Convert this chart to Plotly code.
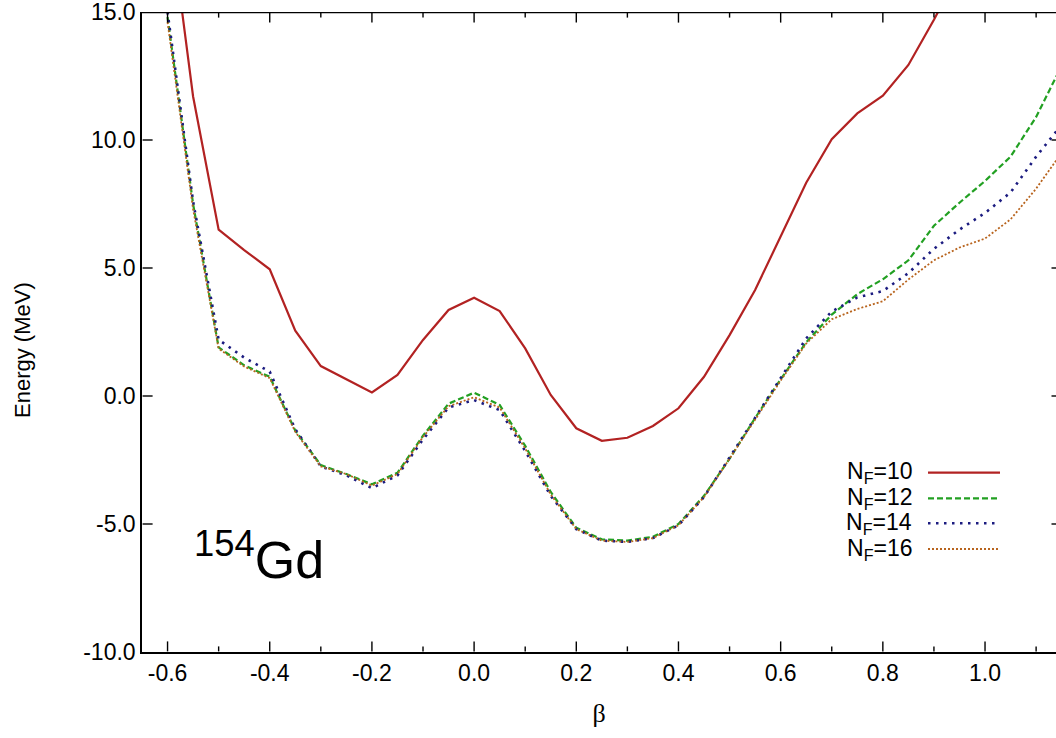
import plotly.graph_objects as go

# ---- data ----
beta = [-0.60, -0.55, -0.50, -0.45, -0.40, -0.35, -0.30, -0.25, -0.20, -0.15,
        -0.10, -0.05, 0.00, 0.05, 0.10, 0.15, 0.20, 0.25, 0.30, 0.35,
        0.40, 0.45, 0.50, 0.55, 0.60, 0.65, 0.70, 0.75, 0.80, 0.85,
        0.90, 0.95, 1.00, 1.05, 1.10, 1.15]

beta_nf10 = beta[:32]
e_nf10 = [19.4, 11.7, 6.5, 5.7, 4.95, 2.55, 1.17, 0.65, 0.14, 0.82,
          2.19, 3.36, 3.84, 3.32, 1.86, 0.04, -1.26, -1.75, -1.63, -1.17,
          -0.48, 0.75, 2.38, 4.14, 6.22, 8.33, 10.03, 11.04, 11.73, 12.93,
          14.7, 16.6]

e_nf12 = [14.8, 7.5, 1.9, 1.2, 0.75, -1.35, -2.7, -3.05, -3.45, -3.0,
          -1.55, -0.3, 0.13, -0.35, -1.95, -3.75, -5.15, -5.6, -5.65, -5.5,
          -5.0, -3.9, -2.45, -0.86, 0.65, 2.1, 3.18, 3.98, 4.56, 5.3,
          6.65, 7.55, 8.4, 9.35, 10.9, 12.9]

e_nf14 = [15.0, 7.6, 2.2, 1.5, 0.95, -1.3, -2.75, -3.1, -3.6, -3.1,
          -1.7, -0.45, -0.16, -0.55, -2.15, -3.9, -5.2, -5.65, -5.7, -5.55,
          -5.05, -3.95, -2.4, -0.85, 0.75, 2.25, 3.3, 3.85, 4.1, 4.8,
          5.75, 6.5, 7.15, 7.95, 9.35, 10.6]

e_nf16 = [14.6, 7.3, 1.85, 1.15, 0.7, -1.4, -2.75, -3.05, -3.5, -3.05,
          -1.6, -0.4, -0.05, -0.45, -2.05, -3.85, -5.2, -5.65, -5.7, -5.55,
          -5.05, -3.95, -2.45, -0.9, 0.6, 2.05, 3.0, 3.4, 3.7, 4.55,
          5.3, 5.8, 6.15, 6.9, 8.1, 9.5]

series_labels = ["N<sub>F</sub>=10", "N<sub>F</sub>=12", "N<sub>F</sub>=14", "N<sub>F</sub>=16"]

x_tick_vals = [-0.6, -0.4, -0.2, 0.0, 0.2, 0.4, 0.6, 0.8, 1.0]
x_tick_text = ["-0.6", "-0.4", "-0.2", "0.0", "0.2", "0.4", "0.6", "0.8", "1.0"]
x_minor_vals = [-0.5, -0.3, -0.1, 0.1, 0.3, 0.5, 0.7, 0.9, 1.1]
y_tick_vals = [-10, -5, 0, 5, 10, 15]
y_tick_text = ["-10.0", "-5.0", "0.0", "5.0", "10.0", "15.0"]

# ---- styles ----
colors = ["#b22222", "#22a022", "#1c1c80", "#b8641e"]
dashes = ["solid", "6px,3px", "2.5px,5.5px", "2px,2px"]
widths = [2.2, 2.2, 2.6, 1.8]

SANS = "Liberation Sans, Arial, Helvetica, sans-serif"
SERIF = "Liberation Serif, Times New Roman, serif"

L, T, B = 142, 12, 86
W, H = 1056, 738
pw, ph = W - L, H - T - B
X_RANGE = [-0.65, 1.1389]
Y_RANGE = [-10, 15]
px_x = (X_RANGE[1] - X_RANGE[0]) / pw   # data units per pixel (x)
px_y = (Y_RANGE[1] - Y_RANGE[0]) / ph   # data units per pixel (y)

fig = go.Figure()
xs = [beta_nf10, beta, beta, beta]
ys = [e_nf10, e_nf12, e_nf14, e_nf16]
for i in range(4):
    fig.add_trace(go.Scatter(x=xs[i], y=ys[i], mode="lines", name=series_labels[i],
                             line=dict(color=colors[i], width=widths[i], dash=dashes[i]),
                             showlegend=False, hoverinfo="skip"))

# ---- frame ticks built from the tick value lists (inward ticks like gnuplot) ----
tx, ty = [], []
y_lo = Y_RANGE[0] + 0.6 * px_y
y_hi = Y_RANGE[1] - 0.6 * px_y
for v in x_tick_vals:
    tx += [v, v, None, v, v, None]
    ty += [y_lo, y_lo + 10 * px_y, None, y_hi, y_hi - 10 * px_y, None]
for v in x_minor_vals:
    tx += [v, v, None, v, v, None]
    ty += [y_lo, y_lo + 5 * px_y, None, y_hi, y_hi - 5 * px_y, None]
x_lo = X_RANGE[0] + 0.6 * px_x
x_hi = X_RANGE[1]
for v in y_tick_vals[1:-1]:
    tx += [x_lo, x_lo + 10 * px_x, None, x_hi, x_hi - 4.5 * px_x, None]
    ty += [v, v, None, v, v, None]
fig.add_trace(go.Scatter(x=tx, y=ty, mode="lines", line=dict(color="black", width=1.4),
                         showlegend=False, hoverinfo="skip", cliponaxis=False))
# top frame line
fig.add_trace(go.Scatter(x=[X_RANGE[0], X_RANGE[1]], y=[y_hi, y_hi], mode="lines",
                         line=dict(color="black", width=1.5),
                         showlegend=False, hoverinfo="skip", cliponaxis=False))

fig.update_layout(
    width=W, height=H,
    margin=dict(l=L, r=0, t=T, b=B, pad=0),
    paper_bgcolor="white", plot_bgcolor="white",
    font=dict(family=SANS, size=23, color="black"),
    xaxis=dict(range=X_RANGE, showline=True, linecolor="black", linewidth=1.5,
               ticks="", tickvals=x_tick_vals, ticktext=x_tick_text,
               showgrid=False, zeroline=False,
               tickfont=dict(size=23, family=SANS, color="black"),
               ticklabeloverflow="allow",
               title=dict(text="β", font=dict(family=SERIF, size=26), standoff=18)),
    yaxis=dict(range=Y_RANGE, showline=True, linecolor="black", linewidth=1.5,
               ticks="", tickvals=y_tick_vals, ticktext=y_tick_text,
               showgrid=False, zeroline=False,
               tickfont=dict(size=23, family=SANS, color="black"),
               ticklabeloverflow="allow"),
)

# y-axis title
fig.add_annotation(xref="paper", yref="paper", x=(22 - L) / pw, y=(H - B - 350) / ph,
                   text="Energy (MeV)", textangle=-90, showarrow=False,
                   xanchor="center", yanchor="middle",
                   font=dict(size=22, family=SANS, color="black"))

# manual legend (text on the left, line sample on the right, as in the original)
row_px = [472.7, 498.3, 523.3, 549.0]
for i in range(4):
    yp = (H - B - row_px[i]) / ph
    fig.add_annotation(xref="paper", yref="paper", x=(914 - L) / pw, y=yp,
                       text=series_labels[i], showarrow=False, xanchor="right", yanchor="middle",
                       font=dict(size=23, family=SANS, color="black"))
    fig.add_shape(type="line", xref="paper", yref="paper",
                  x0=(928 - L) / pw, x1=(1000 - L) / pw, y0=yp, y1=yp,
                  line=dict(color=colors[i], width=widths[i], dash=dashes[i]))

fig.add_annotation(xref="paper", yref="paper", x=(192 - L) / pw, y=(H - B - 556) / ph,
                   text="<sup>154</sup>Gd", showarrow=False, xanchor="left", yanchor="middle",
                   font=dict(size=52, family=SANS, color="black"))

fig.write_html("out.html", config={"displayModeBar": False},
               post_script="document.body.style.margin='0';document.body.style.overflow='hidden';")
